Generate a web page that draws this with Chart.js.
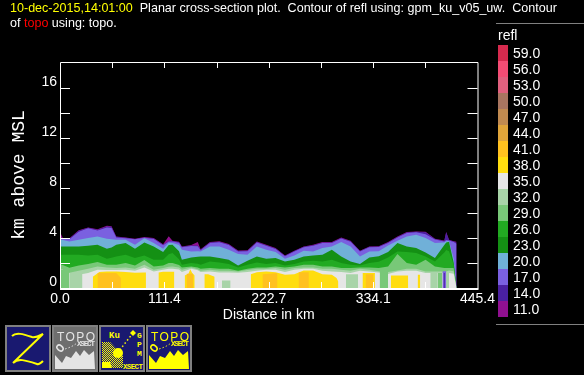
<!DOCTYPE html>
<html>
<head>
<meta charset="utf-8">
<title>Planar cross-section</title>
<script src="https://cdn.jsdelivr.net/npm/chart.js@4/dist/chart.umd.min.js"></script>
<style>
  html, body { margin: 0; padding: 0; background: #000; width: 584px; height: 375px; overflow: hidden; }
  #plot { position: absolute; left: 0; top: 0; }
  #head { position: absolute; left: 10px; top: 1px; width: 574px; color: #fff; font: 12.56px/15px "Liberation Sans", sans-serif; white-space: pre; }
  .icon { position: absolute; top: 325px; }
</style>
</head>
<body>
<canvas id="plot" width="584" height="375"></canvas>
<div id="head"><span style="color:#ffff00">10-dec-2015,14:01:00</span>  Planar cross-section plot.  Contour of refl using: gpm_ku_v05_uw.  Contour
of <span style="color:#ff0000">topo</span> using: topo.</div>
<svg class="icon" style="left:5px" width="46" height="47"><rect x="1" y="1" width="44" height="45" fill="#191970" stroke="#808080" stroke-width="2"/><path d="M7 11 C11 7 18 9 27 12 C31 13 34 11 38 9 L8 38 C13 33 20 35 32 39 C34 40 36 38 38 36" fill="none" stroke="#ffff00" stroke-width="2"/></svg>
<span id="icon2"></span><span id="icon4"></span>
<svg class="icon" style="left:99px" width="46" height="47">
  <defs><pattern id="dither" width="2" height="2" patternUnits="userSpaceOnUse"><rect width="1" height="1" fill="#ffff00"/><rect x="1" y="1" width="1" height="1" fill="#ffff00"/></pattern></defs>
  <rect x="1" y="1" width="44" height="45" fill="#191970" stroke="#808080" stroke-width="2"/>
  <path d="M3 17 H11 L24 31 V43 H3 Z" fill="url(#dither)"/>
  <circle cx="19" cy="28" r="5" fill="#ffff00"/>
  <path d="M3 37 H11 L13 43 H3 Z" fill="#ffff00"/>
  <path d="M34 8 L20 26" stroke="#ffff00" stroke-dasharray="1.5 2.5" stroke-width="1.5"/>
  <path d="M34 5 L37 8 L34 11 L31 8 Z" fill="#ffff00"/>
  <text x="10" y="13" fill="#ffff00" font-family="Liberation Mono" font-weight="bold" font-size="9">Ku</text>
  <text x="38" y="13" fill="#ffff00" font-family="Liberation Mono" font-weight="bold" font-size="8">G</text>
  <text x="38" y="22" fill="#ffff00" font-family="Liberation Mono" font-weight="bold" font-size="8">P</text>
  <text x="38" y="31" fill="#ffff00" font-family="Liberation Mono" font-weight="bold" font-size="8">M</text>
  <text x="24" y="44" fill="#ffff00" font-family="Liberation Mono" font-weight="bold" font-size="7.5" textLength="20">XSECT</text>
</svg>
<script>
// colour bar levels, top to bottom
const barLevels = ['59.0', '56.0', '53.0', '50.0', '47.0', '44.0', '41.0', '38.0', '35.0', '32.0', '29.0', '26.0', '23.0', '20.0', '17.0', '14.0', '11.0'];
const barColors = ['#d62a4e', '#f44c74', '#e0607e', '#a87560', '#c08a50', '#e0a53a', '#ffc11f', '#ffdd0f', '#e6e6e6', '#a8d4a8', '#78c878', '#22aa22', '#149014', '#70b0d8', '#7a60e0', '#4a20a0', '#901090'];

const xTickValues = [0, 55.7, 111.4, 167.1, 222.7, 278.4, 334.1, 389.8, 445.4];
const xTickLabels = ['0.0', '', '111.4', '', '222.7', '', '334.1', '', '445.4'];
const yTickValues = [0, 2, 4, 6, 8, 10, 12, 14, 16];
const yTickLabels = ['0', '', '4', '', '8', '', '12', '', '16'];

// distance along the section, km
const distance = [0, 3, 10, 20, 30, 40, 50, 55, 60, 70, 80, 90, 100, 110, 116, 120, 127, 130, 140, 147, 150, 160, 170, 180, 190, 200, 210, 220, 230, 240, 250, 260, 270, 280, 290, 300, 310, 320, 330, 340, 350, 360, 370, 380, 390, 400, 410, 412, 415, 420, 423];

// top of each refl contour, km above MSL
const top11 = [4.50, 4.00, 3.98, 4.62, 4.85, 4.70, 4.98, 4.95, 4.13, 4.05, 3.95, 4.08, 4.00, 3.50, 4.15, 3.79, 3.70, 3.33, 3.45, 3.68, 3.10, 3.68, 3.75, 3.52, 3.00, 3.02, 3.73, 3.47, 3.20, 2.61, 2.99, 3.33, 3.47, 3.68, 3.68, 4.05, 3.79, 2.99, 3.33, 3.35, 3.68, 4.13, 4.48, 4.53, 4.50, 3.95, 3.80, 4.48, 3.87, 3.75, 3.70];
const top14 = [4.05, 3.98, 3.95, 4.58, 4.82, 4.66, 4.92, 4.90, 4.10, 4.02, 3.92, 4.05, 3.97, 3.46, 3.75, 3.76, 3.67, 3.30, 3.41, 3.40, 3.07, 3.64, 3.71, 3.48, 2.97, 2.99, 3.69, 3.43, 3.17, 2.58, 2.96, 3.30, 3.43, 3.64, 3.64, 4.01, 3.75, 2.96, 3.30, 3.32, 3.64, 4.09, 4.44, 4.50, 4.46, 3.92, 3.76, 4.46, 3.84, 3.72, 3.65];
const top17 = [3.95, 3.93, 3.90, 4.50, 4.78, 4.60, 4.85, 4.80, 4.05, 3.98, 3.90, 4.03, 3.92, 3.42, 3.72, 3.72, 3.63, 3.27, 3.37, 3.35, 3.03, 3.60, 3.67, 3.44, 2.93, 2.95, 3.65, 3.39, 3.13, 2.55, 2.92, 3.26, 3.39, 3.60, 3.60, 3.97, 3.71, 2.92, 3.26, 3.28, 3.60, 4.05, 4.40, 4.46, 4.30, 3.88, 3.72, 3.85, 3.80, 3.68, 3.55];
const top20 = [3.87, 3.85, 3.73, 3.87, 4.00, 4.13, 3.95, 3.90, 3.87, 3.87, 3.47, 3.98, 3.60, 3.15, 3.62, 3.60, 3.45, 3.07, 2.93, 2.95, 2.93, 3.33, 3.33, 3.07, 2.72, 2.67, 3.33, 3.07, 2.88, 2.35, 2.61, 2.99, 2.93, 3.20, 3.33, 3.68, 3.33, 2.53, 2.93, 2.95, 3.41, 3.79, 4.13, 4.27, 4.00, 3.60, 3.65, 3.75, 3.76, 2.35, 0];
const top23 = [3.33, 3.33, 3.33, 3.33, 3.39, 3.47, 3.15, 3.25, 3.47, 3.60, 3.15, 3.65, 3.33, 2.88, 3.45, 3.47, 2.95, 2.27, 2.45, 2.50, 2.53, 2.53, 2.40, 2.27, 1.81, 2.19, 2.53, 2.35, 2.40, 2.13, 2.27, 2.53, 2.61, 2.67, 3.07, 2.53, 2.13, 1.92, 2.45, 2.55, 2.88, 3.60, 3.33, 3.20, 2.85, 2.40, 3.45, 3.65, 3.70, 2.05, 0];
const top26 = [2.67, 2.67, 2.67, 2.67, 2.60, 2.67, 2.35, 2.42, 2.53, 2.67, 2.40, 2.60, 2.27, 2.27, 2.70, 2.80, 2.30, 1.87, 2.00, 1.95, 1.87, 2.13, 2.05, 1.92, 1.65, 1.87, 2.05, 1.92, 2.00, 1.81, 1.92, 2.13, 2.19, 2.13, 2.27, 2.00, 1.87, 1.81, 2.00, 2.10, 2.45, 2.93, 2.88, 2.80, 2.53, 2.13, 2.85, 3.05, 2.95, 1.87, 0];
const top29 = [1.90, 1.85, 1.62, 1.80, 1.92, 2.08, 1.87, 1.87, 1.87, 2.00, 1.81, 2.24, 1.73, 1.81, 2.00, 2.00, 1.85, 1.65, 1.73, 1.65, 1.55, 1.60, 1.55, 1.55, 1.39, 1.55, 1.65, 1.65, 1.73, 1.65, 1.73, 1.87, 1.87, 1.73, 1.73, 1.60, 1.60, 1.65, 1.65, 1.60, 1.73, 2.72, 2.00, 1.87, 2.27, 1.73, 1.60, 1.60, 1.60, 1.60, 0];
const top32 = [1.47, 1.47, 1.22, 1.39, 1.55, 1.73, 1.65, 1.62, 1.60, 1.65, 1.55, 1.87, 1.47, 1.60, 1.70, 1.73, 1.65, 1.47, 1.65, 1.50, 1.39, 1.47, 1.39, 1.39, 1.33, 1.44, 1.55, 1.55, 1.60, 1.47, 1.60, 1.65, 1.65, 1.55, 1.55, 1.47, 1.39, 1.55, 1.47, 1.35, 1.28, 1.40, 1.55, 1.55, 1.33, 1.33, 1.33, 1.33, 1.40, 1.35, 0];
const top35 = [1.47, 1.47, 1.20, 1.07, 1.20, 1.47, 1.44, 1.44, 1.44, 1.47, 1.39, 1.65, 1.33, 1.47, 1.55, 1.55, 1.48, 1.28, 1.55, 1.42, 1.28, 1.33, 1.25, 1.25, 1.22, 1.28, 1.39, 1.47, 1.47, 1.28, 1.47, 1.55, 1.55, 1.39, 1.33, 1.28, 1.20, 1.39, 1.33, 1.25, 1.13, 1.33, 1.39, 1.39, 1.20, 1.20, 1.20, 1.20, 1.20, 1.15, 0];

// patches near the ground, null separates them
const yellowX = [35, 42, 50, 60, 70, 80, 90, 91.7, 91.7, 105, 110, 118, 122, 122, 133, 137, 139, 141, 143.7, 143.7, 154, 158, 165, 165, 203.5, 210, 220, 230, 240, 250, 260, 270, 280, 290, 295, 297, 297, 322.7, 328, 336, 336, 353, 360, 371.5, 371.5, 381.5, 384.3];
const yellowTop = [0.9, 1.28, 1.33, 1.33, 1.28, 1.23, 1.25, 1.25, null, 1.25, 1.3, 1.3, 1.3, null, 1.0, 1.15, 1.5, 1.2, 1.0, null, 1.1, 1.1, 0.9, null, 1.1, 1.27, 1.33, 1.27, 1.07, 1.1, 1.4, 1.4, 1.1, 1.07, 0.8, 0.5, null, 1.2, 1.2, 1.2, null, 1.0, 1.0, 1.0, null, 1.07, 1.07];
const orangeX = [40, 50, 60, 65, 65, 135, 142, 142, 216, 224, 232, 232, 254.5, 260, 265.5, 265.5, 326, 334.5];
const orangeTop = [1.2, 1.2, 1.2, 0.8, null, 1.15, 1.15, null, 1.1, 1.15, 1.2, null, 1.27, 1.27, 1.27, null, 1.1, 1.1];
const paleX = [10, 24, 24, 172.8, 182, 182, 305, 318, 318, 395, 403, 403, 410, 415];
const paleTop = [1.2, 1.2, null, 0.6, 0.6, null, 1.1, 1.1, null, 1.25, 1.25, null, 1.2, 1.2];
const midX = [0, 10, 10, 341, 350, 350, 403, 408];
const midTop = [1.47, 1.47, null, 1.4, 1.4, null, 1.2, 1.2];
const streakX = [408, 412];
const streakTop = [1.35, 1.35];
const streakDarkX = [409.2, 410.6];
const streakDarkTop = [1.2, 1.2];

function levelColor(level) {
  return barColors[barLevels.indexOf(level)];
}

function layer(xs, ys, level) {
  return {
    data: xs.map(function (x, i) { return { x: x, y: ys[i] }; }),
    backgroundColor: levelColor(level),
    borderWidth: 0,
    pointRadius: 0,
    tension: 0,
    fill: 'origin',
    spanGaps: false
  };
}

// painted outermost first, the later ones cover them
const layers = [
  layer(distance, top11, '11.0'),
  layer(distance, top14, '14.0'),
  layer(distance, top17, '17.0'),
  layer(distance, top20, '20.0'),
  layer(distance, top23, '23.0'),
  layer(distance, top26, '26.0'),
  layer(distance, top29, '29.0'),
  layer(distance, top32, '32.0'),
  layer(distance, top35, '35.0'),
  layer(yellowX, yellowTop, '38.0'),
  layer(orangeX, orangeTop, '41.0'),
  layer(paleX, paleTop, '32.0'),
  layer(midX, midTop, '29.0'),
  layer(streakX, streakTop, '17.0'),
  layer(streakDarkX, streakDarkTop, '14.0')
];
layers.forEach(function (d, i) { d.order = layers.length - i; });

// inward ticks on all four sides plus the box
const framePlugin = {
  id: 'frame',
  afterDatasetsDraw(chart) {
    const ctx = chart.ctx, a = chart.chartArea;
    const sx = chart.scales.x, sy = chart.scales.y;
    ctx.save();
    ctx.strokeStyle = '#fff';
    ctx.lineWidth = 1;
    ctx.beginPath();
    ctx.rect(a.left + 0.5, a.top + 0.5, a.right - a.left, a.bottom - a.top);
    xTickValues.slice(1, -1).forEach(function (v) {
      const px = Math.round(sx.getPixelForValue(v)) + 0.5;
      ctx.moveTo(px, a.top); ctx.lineTo(px, a.top + 6);
      ctx.moveTo(px, a.bottom); ctx.lineTo(px, a.bottom - 6);
    });
    yTickValues.slice(1).forEach(function (v) {
      const py = Math.round(sy.getPixelForValue(v)) + 0.5;
      ctx.moveTo(a.left, py); ctx.lineTo(a.left + 10, py);
      ctx.moveTo(a.right, py); ctx.lineTo(a.right - 10, py);
    });
    ctx.stroke();
    ctx.fillStyle = '#fff';
    ctx.fillRect(a.left, a.bottom, a.right - a.left + 1, 2);
    ctx.restore();
  }
};

// colour bar on the right
const barPlugin = {
  id: 'colorbar',
  afterDraw(chart) {
    const ctx = chart.ctx;
    ctx.save();
    ctx.fillStyle = '#808080';
    ctx.fillRect(496, 23, 88, 1);
    ctx.fillRect(496, 324, 88, 1);
    ctx.fillStyle = '#fff';
    ctx.font = '14px "Liberation Sans"';
    ctx.textBaseline = 'middle';
    ctx.fillText('refl', 498, 36);
    barLevels.forEach(function (lab, i) {
      ctx.fillStyle = barColors[i];
      ctx.fillRect(498, 45 + i * 16, 10, 16);
      ctx.fillStyle = '#fff';
      ctx.fillText(lab, 513, 54 + i * 16);
    });
    ctx.restore();
  }
};

new Chart(document.getElementById('plot'), {
  type: 'line',
  data: { datasets: layers },
  plugins: [framePlugin, barPlugin],
  options: {
    responsive: false,
    animation: false,
    events: [],
    layout: { padding: { left: 0, right: 106.5, top: 62, bottom: 51 } },
    plugins: { legend: { display: false }, tooltip: { enabled: false }, title: { display: false } },
    scales: {
      x: {
        type: 'linear',
        min: 0,
        max: 445.4,
        afterBuildTicks(scale) { scale.ticks = xTickValues.map(function (v) { return { value: v }; }); },
        afterFit(scale) { scale.height = 36; },
        grid: { display: false, drawTicks: false },
        border: { display: false },
        ticks: {
          color: '#fff',
          font: { family: 'Liberation Sans', size: 14 },
          padding: 3,
          autoSkip: false,
          maxRotation: 0,
          callback: function (value, index) { return xTickLabels[index]; }
        },
        title: {
          display: true,
          text: 'Distance in km',
          color: '#fff',
          font: { family: 'Liberation Sans', size: 14 },
          padding: { top: 0, bottom: 0 }
        }
      },
      y: {
        min: 0,
        max: 18.08,
        afterBuildTicks(scale) { scale.ticks = yTickValues.map(function (v) { return { value: v }; }); },
        afterFit(scale) { scale.width = 60; },
        grid: { display: false, drawTicks: false },
        border: { display: false },
        ticks: {
          color: '#fff',
          font: { family: 'Liberation Sans', size: 14 },
          padding: 3,
          autoSkip: false,
          labelOffset: -6,
          callback: function (value, index) { return yTickLabels[index]; }
        },
        title: {
          display: true,
          text: 'km above MSL',
          color: '#fff',
          font: { family: 'Liberation Mono', size: 18 },
          padding: { top: 8, bottom: 0 }
        }
      }
    }
  }
});

// the two TOPO buttons share one drawing
function topoIcon(holder, left, bg, fg) {
  holder.innerHTML = '<svg class="icon" style="left:' + left + 'px" width="46" height="47">' +
    '<rect x="1" y="1" width="44" height="45" fill="' + bg + '" stroke="#808080" stroke-width="2"/>' +
    '<path d="M3 30 L10 38 L14 31 L19 33 L24 26 L28 31 L32 25 L37 30 L42 26 L43 44 H3 Z" fill="' + fg + '"/>' +
    '<ellipse cx="8" cy="23" rx="3.5" ry="2.5" transform="rotate(40 8 23)" fill="none" stroke="' + fg + '" stroke-width="1.5"/>' +
    '<path d="M13 24 Q20 22 25 18" fill="none" stroke="' + fg + '" stroke-dasharray="1.5 2"/>' +
    '<text x="5" y="16" fill="' + fg + '" font-family="Liberation Sans" font-size="12" letter-spacing="1.4">TOPO</text>' +
    '<text x="25" y="21" fill="' + fg + '" font-family="Liberation Mono" font-weight="bold" font-size="7.5" textLength="18">XSECT</text>' +
    '</svg>';
}
topoIcon(document.getElementById('icon2'), 52, '#6e6e6e', '#e4e4e4');
topoIcon(document.getElementById('icon4'), 146, '#191970', '#ffff00');
</script>
</body>
</html>
